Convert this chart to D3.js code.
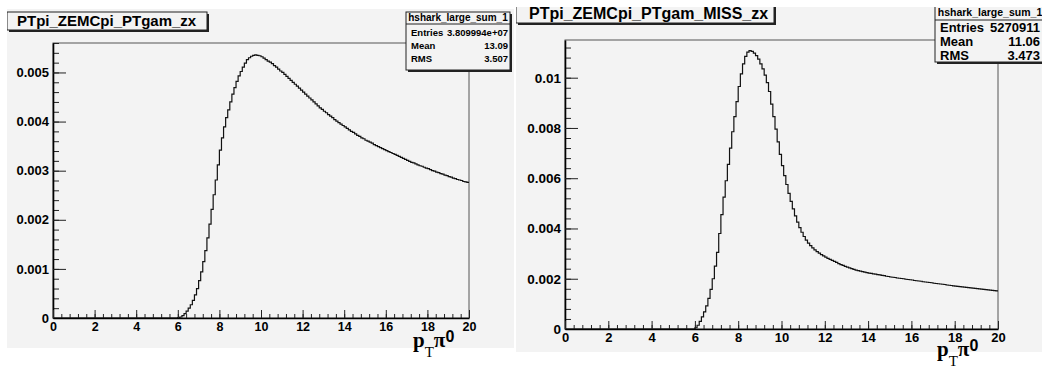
<!DOCTYPE html>
<html>
<head>
<meta charset="utf-8">
<script src="https://cdn.jsdelivr.net/npm/d3@7"></script>
<style>
  body { margin: 0; background: #fff; }
  svg text { font-family: "Liberation Sans", Arial, sans-serif; font-weight: bold; fill: #000; }
</style>
</head>
<body>
<svg id="chart" width="1042" height="371"></svg>
<script>
// histogram bins: 0.1 wide from pT = 6 up to 20, everything below 6 is empty
const binStart = 6, binWidth = 0.1;

const zxValues = [
  0.00001, 0.00002, 0.00005, 0.00009, 0.00014, 0.00020, 0.00027, 0.00036, 0.00047, 0.00060,
  0.00076, 0.00094, 0.00115, 0.00137, 0.00163, 0.00191, 0.00221, 0.00251, 0.00281, 0.00312,
  0.00342, 0.00367, 0.00389, 0.00408, 0.00424, 0.00440, 0.00456, 0.00469, 0.00482, 0.00493,
  0.00502, 0.00511, 0.00519, 0.00526, 0.00530, 0.00533, 0.00535, 0.00536, 0.00535, 0.00534,
  0.00532, 0.00529, 0.00526, 0.00523, 0.00521, 0.00518, 0.00514, 0.00511, 0.00507, 0.00503,
  0.00500, 0.00496, 0.00492, 0.00488, 0.00484, 0.00480, 0.00476, 0.00472, 0.00468, 0.00464,
  0.00460, 0.00456, 0.00452, 0.00448, 0.00444, 0.00440, 0.00436, 0.00432, 0.00428, 0.00425,
  0.00421, 0.00418, 0.00414, 0.00411, 0.00408, 0.00404, 0.00401, 0.00398, 0.00395, 0.00392,
  0.00389, 0.00386, 0.00383, 0.00380, 0.00378, 0.00375, 0.00372, 0.00370, 0.00367, 0.00365,
  0.00362, 0.00360, 0.00358, 0.00356, 0.00353, 0.00351, 0.00349, 0.00347, 0.00345, 0.00343,
  0.00341, 0.00339, 0.00337, 0.00335, 0.00333, 0.00331, 0.00329, 0.00327, 0.00325, 0.00323,
  0.00321, 0.00319, 0.00317, 0.00316, 0.00314, 0.00312, 0.00310, 0.00309, 0.00307, 0.00305,
  0.00304, 0.00302, 0.00300, 0.00299, 0.00297, 0.00296, 0.00294, 0.00293, 0.00291, 0.00290,
  0.00288, 0.00287, 0.00285, 0.00284, 0.00282, 0.00281, 0.00280, 0.00278, 0.00277, 0.00276
];

const missValues = [
  0.00005, 0.00015, 0.00030, 0.00048, 0.00068, 0.00092, 0.00122, 0.00158, 0.00200, 0.00250,
  0.00305, 0.00380, 0.00455, 0.00525, 0.00590, 0.00655, 0.00720, 0.00785, 0.00845, 0.00905,
  0.00965, 0.01015, 0.01055, 0.01085, 0.01102, 0.01108, 0.01105, 0.01098, 0.01088, 0.01074,
  0.01055, 0.01035, 0.01010, 0.00980, 0.00945, 0.00895, 0.00845, 0.00795, 0.00745, 0.00695,
  0.00650, 0.00610, 0.00575, 0.00540, 0.00508, 0.00478, 0.00450, 0.00425, 0.00403, 0.00385,
  0.00368, 0.00354, 0.00342, 0.00332, 0.00323, 0.00315, 0.00308, 0.00302, 0.00296, 0.00291,
  0.00286, 0.00281, 0.00277, 0.00273, 0.00269, 0.00265, 0.00260, 0.00256, 0.00253, 0.00249,
  0.00246, 0.00243, 0.00240, 0.00237, 0.00234, 0.00232, 0.00230, 0.00228, 0.00226, 0.00224,
  0.00222, 0.00221, 0.00219, 0.00218, 0.00216, 0.00215, 0.00213, 0.00212, 0.00210, 0.00209,
  0.00207, 0.00206, 0.00205, 0.00203, 0.00202, 0.00201, 0.00200, 0.00198, 0.00197, 0.00196,
  0.00195, 0.00193, 0.00192, 0.00191, 0.00190, 0.00188, 0.00187, 0.00186, 0.00185, 0.00184,
  0.00182, 0.00181, 0.00180, 0.00179, 0.00178, 0.00177, 0.00175, 0.00174, 0.00173, 0.00172,
  0.00171, 0.00170, 0.00169, 0.00168, 0.00167, 0.00166, 0.00165, 0.00164, 0.00163, 0.00162,
  0.00161, 0.00160, 0.00159, 0.00158, 0.00157, 0.00156, 0.00155, 0.00154, 0.00153, 0.00152
];

const statLabels = ["Entries", "Mean", "RMS"];
const zxStats = ["3.809994e+07", "13.09", "3.507"];
const missStats = ["5270911", "11.06", "3.473"];
const statsName = "hshark_large_sum_1";

const xMajor = d3.range(0, 20.01, 2);
const xMinor = d3.range(0, 20.01, 0.4);

const svg = d3.select("#chart");
const fmt = d => d === 0 ? "0" : d3.format(".3~f")(d);

function createChart(cfg) {
  const clipId = "clip-" + cfg.id;
  svg.append("clipPath").attr("id", clipId)
    .append("rect")
    .attr("x", cfg.pad[0]).attr("y", cfg.pad[1])
    .attr("width", cfg.pad[2]).attr("height", cfg.pad[3]);

  const g = svg.append("g").attr("clip-path", `url(#${clipId})`);

  g.append("rect")
    .attr("x", cfg.pad[0]).attr("y", cfg.pad[1])
    .attr("width", cfg.pad[2]).attr("height", cfg.pad[3])
    .attr("fill", "#f3f3f3");

  const x = d3.scaleLinear().domain([0, 20]).range([cfg.frame.left, cfg.frame.right]);
  const y = d3.scaleLinear().domain([0, cfg.ymax]).range([cfg.frame.bottom, cfg.frame.top]);

  // frame
  g.append("rect")
    .attr("x", x(0)).attr("y", y(cfg.ymax))
    .attr("width", x(20) - x(0)).attr("height", y(0) - y(cfg.ymax))
    .attr("fill", "none").attr("stroke", "#555").attr("stroke-width", 1);

  // histogram outline
  const pts = [[0, 0]].concat(cfg.values.map((v, i) => [binStart + i * binWidth, v]));
  pts.push([20, cfg.values[cfg.values.length - 1]]);
  const line = d3.line().x(d => x(d[0])).y(d => y(d[1])).curve(d3.curveStepAfter);
  g.append("path")
    .attr("d", line(pts))
    .attr("fill", "none").attr("stroke", "#111").attr("stroke-width", 1.2);

  // y axis
  const yMajor = d3.range(0, cfg.ymax, cfg.yStep);
  const yMinor = d3.range(0, cfg.ymax + 1e-9, cfg.yStep / 5);
  g.append("g")
    .attr("transform", `translate(${x(0)},0)`)
    .call(d3.axisLeft(y).tickValues(yMinor).tickSize(-6).tickFormat(""))
    .call(a => a.select(".domain").remove());
  g.append("g")
    .attr("transform", `translate(${x(0)},0)`)
    .call(d3.axisLeft(y).tickValues(yMajor).tickSize(-13).tickSizeOuter(0).tickPadding(4).tickFormat(fmt))
    .call(a => a.selectAll("text").style("font-size", cfg.tickSize + "px"));

  // x axis
  g.append("g")
    .attr("transform", `translate(0,${y(0)})`)
    .call(d3.axisBottom(x).tickValues(xMinor).tickSize(-4).tickFormat(""))
    .call(a => a.select(".domain").remove());
  g.append("g")
    .attr("transform", `translate(0,${y(0)})`)
    .call(d3.axisBottom(x).tickValues(xMajor).tickSize(-8).tickSizeOuter(0).tickPadding(4))
    .call(a => a.selectAll("text").style("font-size", cfg.xTickSize + "px"));

  g.selectAll(".domain").attr("stroke", "#000").attr("stroke-width", 1.6);
  g.selectAll(".tick line").attr("stroke", "#222");

  // title box
  const tb = cfg.titleBox;
  g.append("rect").attr("x", tb[0] + 2).attr("y", tb[1] + 2).attr("width", tb[2]).attr("height", tb[3]).attr("fill", "#222");
  g.append("rect").attr("x", tb[0]).attr("y", tb[1]).attr("width", tb[2]).attr("height", tb[3])
    .attr("fill", "#f3f3f3").attr("stroke", "#222").attr("stroke-width", 1);
  g.append("text")
    .attr("x", tb[0] + cfg.titleInset).attr("y", tb[1] + tb[3] - 4)
    .style("font-size", cfg.titleSize + "px")
    .text(cfg.title);

  // stats box
  const sb = cfg.statsBox;
  g.append("rect").attr("x", sb[0] + 2).attr("y", sb[1] + 2).attr("width", sb[2]).attr("height", sb[3]).attr("fill", "#222");
  g.append("rect").attr("x", sb[0]).attr("y", sb[1]).attr("width", sb[2]).attr("height", sb[3])
    .attr("fill", "#f3f3f3").attr("stroke", "#222").attr("stroke-width", 1);
  g.append("line")
    .attr("x1", sb[0]).attr("x2", sb[0] + sb[2])
    .attr("y1", cfg.statsHeaderLine).attr("y2", cfg.statsHeaderLine)
    .attr("stroke", "#222");
  g.append("text")
    .attr("x", cfg.statsHeaderX).attr("y", cfg.statsHeaderBase)
    .attr("text-anchor", "middle")
    .style("font-size", cfg.statsHeaderSize + "px")
    .text(statsName);
  statLabels.forEach((lab, i) => {
    const by = cfg.statsRows[i];
    g.append("text").attr("x", sb[0] + 5).attr("y", by)
      .style("font-size", cfg.statsSize + "px").text(lab);
    g.append("text").attr("x", cfg.statsValueRight).attr("y", by)
      .attr("text-anchor", "end")
      .style("font-size", cfg.statsSize + "px").text(cfg.stats[i]);
  });

  // axis title  p_T pi^0
  const t = svg.append("text")
    .attr("x", cfg.axisTitle[0]).attr("y", cfg.axisTitle[1]);
  t.append("tspan").style("font-family", "'Liberation Serif', serif").style("font-size", "21px").text("p");
  t.append("tspan").attr("dy", 10).style("font-family", "'Liberation Serif', serif").style("font-weight", "normal").style("font-size", "15px").text("T");
  t.append("tspan").attr("dy", -10).style("font-family", "'Liberation Serif', serif").style("font-size", "21px").text("\u03c0");
  t.append("tspan").attr("dy", -5).style("font-size", "16px").text("0");
}

createChart({
  id: "zx",
  pad: [7, 9, 507, 339],
  frame: { left: 53, right: 469, top: 43, bottom: 318 },
  ymax: 0.0056, yStep: 0.001,
  values: zxValues,
  tickSize: 13, xTickSize: 12.5,
  title: "PTpi_ZEMCpi_PTgam_zx", titleBox: [7, 12, 200, 18], titleSize: 15, titleInset: 10,
  stats: zxStats, statsBox: [406, 12, 104, 58], statsHeaderLine: 24, statsHeaderBase: 21,
  statsHeaderX: 458, statsHeaderSize: 10,
  statsRows: [36, 49, 62], statsValueRight: 508, statsSize: 9.5,
  axisTitle: [413, 347]
});

createChart({
  id: "miss",
  pad: [516, 7, 526, 345],
  frame: { left: 565, right: 998, top: 40, bottom: 329 },
  ymax: 0.0115, yStep: 0.002,
  values: missValues,
  tickSize: 13.5, xTickSize: 13,
  title: "PTpi_ZEMCpi_PTgam_MISS_zx", titleBox: [516, 0, 258, 23], titleSize: 16, titleInset: 13,
  stats: missStats, statsBox: [935, 0, 120, 62], statsHeaderLine: 20, statsHeaderBase: 16,
  statsHeaderX: 990, statsHeaderSize: 10.5,
  statsRows: [32, 46, 60], statsValueRight: 1040, statsSize: 13,
  axisTitle: [937, 356]
});
</script>
</body>
</html>
